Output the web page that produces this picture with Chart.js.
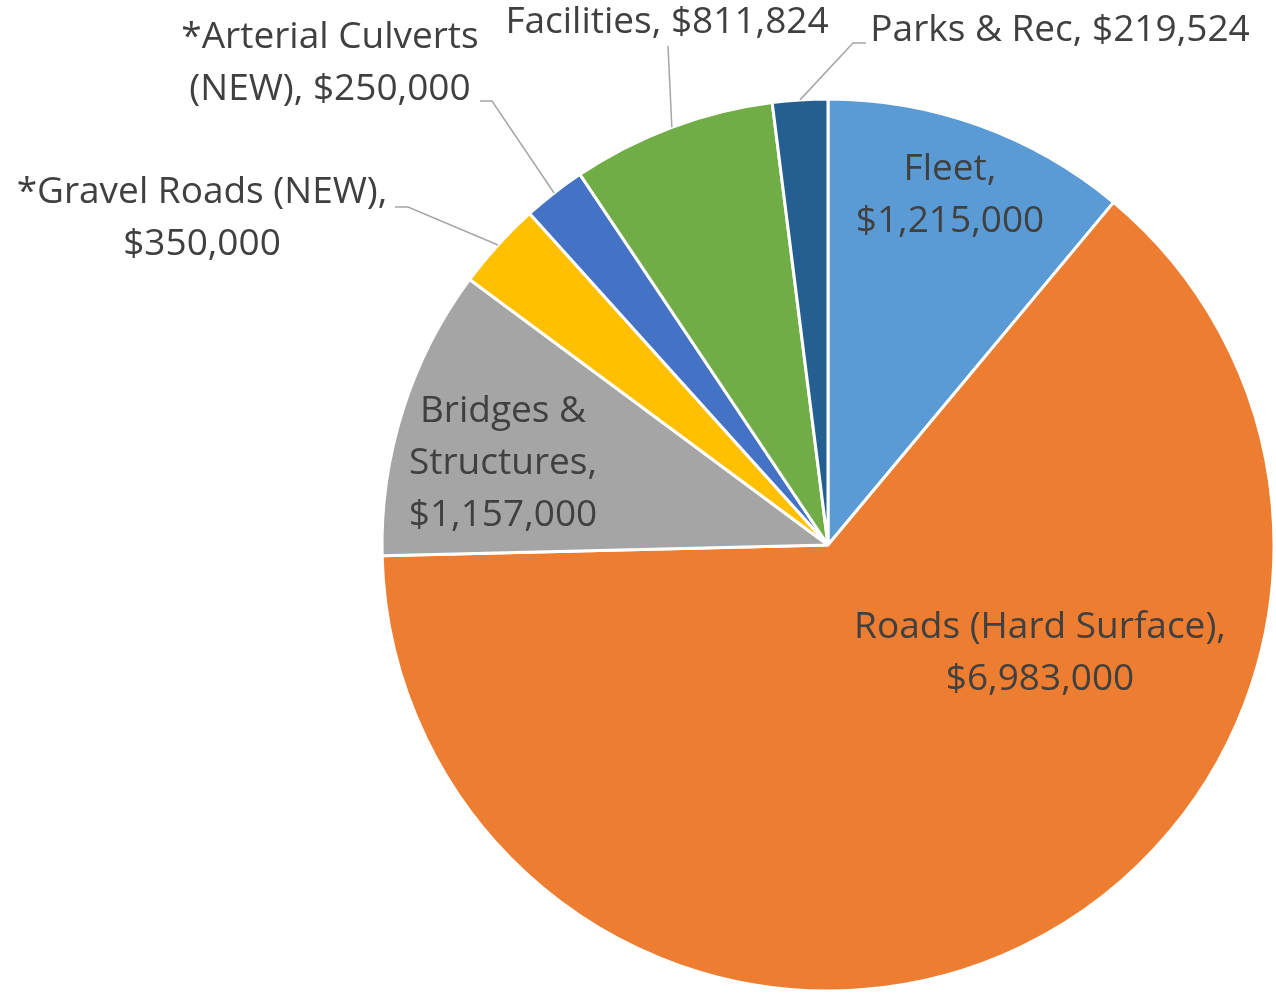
<!DOCTYPE html>
<html>
<head>
<meta charset="utf-8">
<title>Capital Budget by Program</title>
<script src="https://cdn.jsdelivr.net/npm/chart.js@4"></script>
<style>
  html, body { margin: 0; padding: 0; background: #ffffff; }
  #wrap { width: 1276px; height: 993px; }
</style>
</head>
<body>
<div id="wrap"><canvas id="budgetPie" width="1276" height="993"></canvas></div>
<script>
// Program budgets, clockwise from 12 o'clock
const programs = [
    "Fleet",
    "Roads (Hard Surface)",
    "Bridges & Structures",
    "*Gravel Roads (NEW)",
    "*Arterial Culverts (NEW)",
    "Facilities",
    "Parks & Rec"
];
const budgets = [1215000, 6983000, 1157000, 350000, 250000, 811824, 219524];
const sliceColors = ["#5B9BD5", "#ED7D31", "#A5A5A5", "#FFC000", "#4472C4", "#70AD47", "#255E91"];

// Label placement: block centre offset from pie centre, words per line,
// and for outside labels the leader elbow / end offsets
const labelLayout = [
    { dx: 122, dy: -350, lines: [1, 1] },
    { dx: 212, dy: 108, lines: [3, 1] },
    { dx: -325, dy: -82, lines: [2, 1, 1] },
    { dx: -626, dy: -327, lines: [3, 1], leader: [[-420, -338], [-433, -338]] },
    { dx: -498, dy: -482, lines: [2, 2], leader: [[-336, -444], [-348, -444]] },
    { dx: -161, dy: -523, lines: [2], leader: [[-160, -499]] },
    { dx: 232, dy: -515, lines: [4], leader: [[25, -502], [38, -502]] }
];

const LABEL_FONT = '37px "Open Sans", sans-serif';
const LINE_HEIGHT = 52;

function money(v) {
    return "$" + v.toLocaleString("en-US");
}

const sliceLabels = {
    id: "sliceLabels",
    afterDatasetsDraw(chart) {
        const ctx = chart.ctx;
        const arcs = chart.getDatasetMeta(0).data;
        ctx.save();
        arcs.forEach((arc, i) => {
            const lay = labelLayout[i];
            const cx = arc.x, cy = arc.y;

            // leader line from the middle of the slice's outer edge
            if (lay.leader) {
                const mid = (arc.startAngle + arc.endAngle) / 2;
                ctx.beginPath();
                ctx.moveTo(cx + Math.cos(mid) * arc.outerRadius, cy + Math.sin(mid) * arc.outerRadius);
                lay.leader.forEach(p => ctx.lineTo(cx + p[0], cy + p[1]));
                ctx.strokeStyle = "#A6A6A6";
                ctx.lineWidth = 1.5;
                ctx.stroke();
            }

            const words = (programs[i] + ", " + money(budgets[i])).split(" ");
            const rows = [];
            let k = 0;
            lay.lines.forEach(n => {
                rows.push(words.slice(k, k + n).join(" "));
                k += n;
            });

            ctx.font = LABEL_FONT;
            ctx.fillStyle = "#404040";
            ctx.textAlign = "center";
            ctx.textBaseline = "middle";
            const top = cy + lay.dy - (rows.length - 1) * LINE_HEIGHT / 2;
            rows.forEach((r, j) => ctx.fillText(r, cx + lay.dx, top + j * LINE_HEIGHT));
        });
        ctx.restore();
    }
};

new Chart(document.getElementById("budgetPie"), {
    type: "pie",
    data: {
        labels: programs,
        datasets: [{
            data: budgets,
            backgroundColor: sliceColors,
            borderColor: "#ffffff",
            borderWidth: 3
        }]
    },
    options: {
        responsive: false,
        animation: false,
        radius: 446,
        layout: { padding: { left: 380, right: 0, top: 97, bottom: 0 } },
        plugins: {
            legend: { display: false },
            tooltip: { enabled: false }
        }
    },
    plugins: [sliceLabels]
});
</script>
</body>
</html>
